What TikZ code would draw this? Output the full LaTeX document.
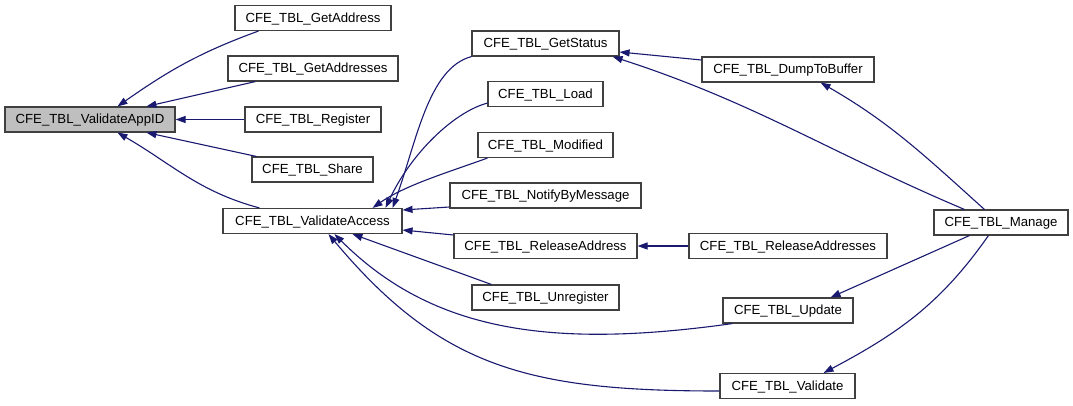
\documentclass[tikz,border=0pt]{standalone}
\usepackage{fontspec}
\setmainfont{Liberation Sans}
\usetikzlibrary{arrows.meta,positioning}
\definecolor{edgeblue}{HTML}{191970}

\begin{document}
\begin{tikzpicture}[
    x=1pt, y=1pt,
    fn/.style={draw=black!75, fill=white, rectangle, line width=1.1pt, minimum height=25pt, inner sep=0pt, text height=9.6pt, text depth=1.6pt, font=\fontsize{13.2}{15}\selectfont},
    root/.style={fn, fill=black!25},
    edge/.style={->, >={Triangle[length=10pt, width=7pt]}, draw=edgeblue, line width=1.1pt}
]
    \useasboundingbox (0,0) rectangle (1073,-405);

    % 1. Function being called (left)
    \node[root, minimum width=170pt] (appid) at (90,-119.5) {CFE\_TBL\_ValidateAppID};

    % 2. First column of callers
    \node[fn, minimum width=156pt] (getaddr) at (313,-18) {CFE\_TBL\_GetAddress};
    \node[fn, minimum width=170pt] (getaddrs) at (313,-68.5) {CFE\_TBL\_GetAddresses};
    \node[fn, minimum width=136pt] (register) at (313,-119.5) {CFE\_TBL\_Register};
    \node[fn, minimum width=121pt] (share) at (312.5,-169.5) {CFE\_TBL\_Share};
    \node[fn, minimum width=179pt] (access) at (312.5,-221) {CFE\_TBL\_ValidateAccess};

    % 3. Callers of ValidateAccess
    \node[fn, minimum width=147pt] (getstatus) at (545.5,-43.5) {CFE\_TBL\_GetStatus};
    \node[fn, minimum width=115pt] (load) at (545.5,-94) {CFE\_TBL\_Load};
    \node[fn, minimum width=135pt] (modified) at (545.5,-145) {CFE\_TBL\_Modified};
    \node[fn, minimum width=191pt] (notify) at (545.5,-195.5) {CFE\_TBL\_NotifyByMessage};
    \node[fn, minimum width=183pt] (reladdr) at (545.5,-246) {CFE\_TBL\_ReleaseAddress};
    \node[fn, minimum width=147pt] (unreg) at (545.5,-297.5) {CFE\_TBL\_Unregister};

    % 4. Third column
    \node[fn, minimum width=172pt] (dump) at (788,-69.5) {CFE\_TBL\_DumpToBuffer};
    \node[fn, minimum width=198pt] (reladdrs) at (788,-246) {CFE\_TBL\_ReleaseAddresses};
    \node[fn, minimum width=130pt] (update) at (788,-310.5) {CFE\_TBL\_Update};
    \node[fn, minimum width=135pt] (validate) at (787.5,-386) {CFE\_TBL\_Validate};

    % 5. Right end
    \node[fn, minimum width=134pt] (manage) at (1001,-222.5) {CFE\_TBL\_Manage};

    % 6. Edges into ValidateAppID
    \draw[edge] ([xshift=24pt]getaddr.south west) to[out=200, in=35] ([xshift=113pt]appid.north west);
    \draw[edge] ([xshift=28pt]getaddrs.south west) -- ([xshift=142pt]appid.north west);
    \draw[edge] (register) -- (appid);
    \draw[edge] ([xshift=5pt]share.north west) -- ([xshift=142pt]appid.south west);
    \draw[edge] ([xshift=37pt]access.north west) to[out=165, in=-30] ([xshift=113pt]appid.south west);

    % 7. Edges into ValidateAccess
    \draw[edge] (getstatus.south west) .. controls +(195:45) and +(70:70) .. ([xshift=-10pt]access.north east);
    \draw[edge] ([yshift=4pt]load.south west) .. controls +(195:35) and +(65:60) .. ([xshift=-17pt]access.north east);
    \draw[edge] ([xshift=10pt]modified.south west) .. controls +(200:40) and +(35:40) .. ([xshift=-30pt]access.north east);
    \draw[edge] ([yshift=-11.5pt]notify.west) -- ([yshift=11pt]access.east);
    \draw[edge] ([yshift=11pt]reladdr.west) -- ([yshift=-9pt]access.east);
    \draw[edge] ([xshift=20pt]unreg.north west) -- ([xshift=130pt]access.south west);
    \draw[edge] ([xshift=10pt]update.south west) .. controls +(188:180) and +(-45:140) .. ([xshift=112pt]access.south west);
    \draw[edge] ([yshift=-5pt]validate.west) .. controls +(180:190) and +(-50:175) .. ([xshift=106pt]access.south west);

    % 8. Remaining edges
    \draw[edge] ([yshift=9.5pt]dump.west) -- ([yshift=-8.5pt]getstatus.east);
    \draw[edge] ([xshift=31pt]manage.north west) to[out=157, in=-18] ([xshift=-7pt]getstatus.south east);
    \draw[edge] ([xshift=51pt]manage.north west) to[out=138, in=-30] ([xshift=-54pt]dump.south east);
    \draw[edge] (reladdrs) -- (reladdr);
    \draw[edge] ([xshift=36pt]manage.south west) -- ([xshift=-23pt]update.north east);
    \draw[edge] ([xshift=55pt]manage.south west) to[out=235, in=28] ([xshift=-32pt]validate.north east);

\end{tikzpicture}
\end{document}
